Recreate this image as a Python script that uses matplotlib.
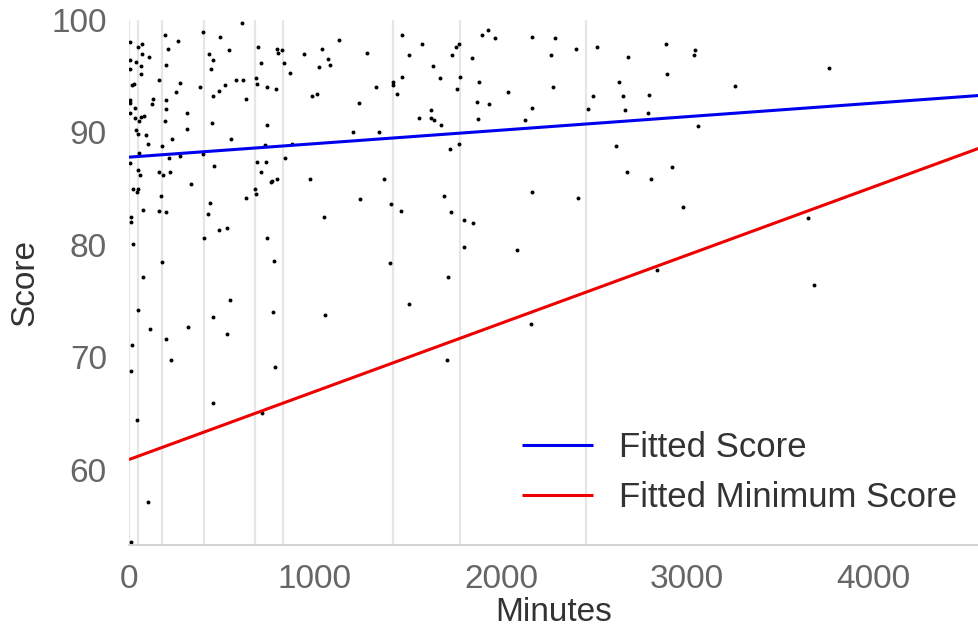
import matplotlib
matplotlib.use("Agg")
import matplotlib.pyplot as plt

plt.rcParams['font.family'] = ['Liberation Sans', 'DejaVu Sans']

# Scatter data (Minutes, Score)
minutes = [
    609, 398, 192, 1468, 491, 1131, 262, 5, 68, 50, 695, 211, 794, 1038, 824, 536, 801, 1278,
    68, 428, 939, 1505, 106, 1070, 5, 36, 453, 708, 832, 199, 1081, 63, 1020, 441, 5, 867, 63,
    161, 577, 615, 681, 1418, 272, 690, 25, 14, 516, 380, 740, 789, 1328, 1468, 1418, 484, 254,
    1441, 984, 1011, 129, 199, 453, 627, 5, 5, 1237, 125, 31, 199, 5, 310, 81, 65, 31, 56, 192,
    446, 740, 310, 36, 48, 93, 1204, 1342, 547, 229, 100, 179, 733, 875, 56, 5, 217, 272, 398,
    839, 688, 738, 459, 48, 161, 222, 184, 57, 710, 794, 770, 763, 975, 1371, 335, 23, 48, 41,
    677, 683, 627, 172, 1242, 434, 1410, 74, 161, 199, 423, 1461, 12, 1048, 12, 527, 484, 403,
    740, 23, 781, 179, 1403, 74,
    1577, 1633, 1670, 1738, 1756, 1776, 1899, 1930, 1968, 1844, 1763, 1781, 1882, 1869, 1937,
    1875, 2036, 2167, 2292, 2267, 2403, 2514, 2279, 2167, 2129, 1557, 1625, 1625, 1638, 1676,
    1726, 1776, 1695, 1733, 1801, 1851, 1801, 1713, 2086, 2167, 2416, 2466, 2496, 2632, 2657,
    2683, 2665, 2794, 2788, 2887, 2892, 3036, 3043, 3059, 2620, 2676, 2806, 2919, 2980, 2837,
    3256, 3763, 3652, 3682,
    50, 541, 453, 776, 1055, 1508, 111, 315, 197, 527, 18, 224, 783, 12, 453, 717, 43, 100, 9,
    2161, 1708,
]
scores = [
    99.7, 98.9, 98.7, 98.7, 98.5, 98.2, 98.1, 98.0, 97.9, 97.6, 97.6, 97.4, 97.4, 97.4, 97.3,
    97.3, 97.1, 97.1, 97.0, 97.0, 97.0, 96.9, 96.7, 96.5, 96.4, 96.3, 96.4, 96.2, 96.2, 96.0,
    96.0, 95.9, 95.8, 95.6, 95.6, 95.3, 95.2, 94.7, 94.7, 94.7, 94.8, 94.5, 94.4, 94.3, 94.3,
    94.2, 94.2, 94.0, 94.0, 93.9, 94.0, 94.9, 94.2, 93.7, 93.6, 93.4, 93.2, 93.4, 93.0, 92.9,
    93.2, 93.0, 92.9, 92.6, 92.6, 92.5, 92.2, 92.1, 91.7, 91.7, 91.5, 91.4, 91.3, 91.0, 91.0,
    90.8, 90.7, 90.3, 90.2, 89.9, 89.8, 90.0, 90.0, 89.4, 89.4, 89.0, 88.8, 88.9, 89.0, 88.2,
    87.3, 87.7, 87.9, 88.1, 87.7, 87.4, 87.4, 87.0, 86.7, 86.5, 86.5, 86.2, 86.2, 86.5, 85.9,
    85.7, 85.6, 85.9, 85.9, 85.4, 85.0, 85.0, 84.7, 85.0, 84.5, 84.2, 84.3, 84.1, 83.7, 83.6,
    83.1, 83.0, 82.9, 82.7, 83.0, 82.5, 82.5, 82.0, 81.5, 81.3, 80.6, 80.6, 80.1, 78.6, 78.5,
    78.4, 77.1,
    97.9, 95.9, 94.8, 96.9, 97.6, 97.9, 98.7, 99.1, 98.4, 96.6, 93.9, 94.9, 94.5, 92.7, 92.5,
    91.2, 93.6, 98.5, 98.4, 96.9, 97.4, 97.6, 94.0, 92.2, 91.1, 91.3, 92.0, 91.3, 91.1, 90.7,
    88.5, 89.0, 84.3, 82.9, 82.2, 81.9, 79.8, 77.1, 79.5, 84.7, 84.2, 92.1, 93.2, 94.5, 93.2,
    96.7, 92.0, 93.3, 91.7, 97.9, 95.2, 96.9, 97.3, 90.6, 88.8, 86.5, 85.9, 86.9, 83.4, 77.8,
    94.1, 95.7, 82.4, 76.4,
    74.2, 75.1, 73.6, 74.0, 73.8, 74.7, 72.5, 72.7, 71.6, 72.1, 71.1, 69.8, 69.1, 68.8, 65.9,
    65.0, 64.4, 57.1, 53.6,
    73.0, 69.8,
]

# Vertical reference lines (Minutes)
vlines = [0, 50, 179, 403, 677, 830, 1417, 1780, 2457]

# Fitted lines: intercept, slope per minute
fit_score = (87.8, 0.00120)
fit_min_score = (60.9, 0.00606)

x_range = [0, 4570]
y_range = [53.3, 100]
x_ticks = [0, 1000, 2000, 3000, 4000]
y_ticks = [60, 70, 80, 90, 100]

fig = plt.figure(figsize=(9.79, 6.32), dpi=100)
ax = fig.add_axes([129/979, 87/632, 850/979, 525/632])

for v in vlines:
    ax.axvline(v, color='#e6e6e6', lw=1.6, zorder=0)

ax.scatter(minutes, scores, s=8, c='black', linewidths=0, zorder=2)

xs = x_range
ax.plot(xs, [fit_score[0] + fit_score[1]*x for x in xs], color='#0000ee', lw=2.2,
        label='Fitted Score', zorder=3, solid_capstyle='butt')
ax.plot(xs, [fit_min_score[0] + fit_min_score[1]*x for x in xs], color='#ee0000', lw=2.2,
        label='Fitted Minimum Score', zorder=3, solid_capstyle='butt')

ax.set_xlim(x_range)
ax.set_ylim(y_range)
ax.set_xticks(x_ticks)
ax.set_yticks(y_ticks)
ax.tick_params(axis='both', length=0, labelsize=24, labelcolor='#666666')
ax.tick_params(axis='x', pad=14)
ax.tick_params(axis='y', pad=16)

for s in ['top', 'right', 'left']:
    ax.spines[s].set_visible(False)
ax.spines['bottom'].set_color('#cccccc')
ax.spines['bottom'].set_linewidth(1.2)

ax.set_xlabel('Minutes', fontsize=24, color='#333333', labelpad=1)
ax.set_ylabel('Score', fontsize=24, color='#333333', labelpad=8)

leg = ax.legend(loc='upper left', bbox_to_anchor=(522/979, 1 - 431/632),
                bbox_transform=fig.transFigure, frameon=False, fontsize=25,
                handlelength=2.05, handletextpad=0.75, labelspacing=0.48,
                borderpad=0, borderaxespad=0)
for t in leg.get_texts():
    t.set_color('#333333')

fig.savefig('out.png', dpi=100)
